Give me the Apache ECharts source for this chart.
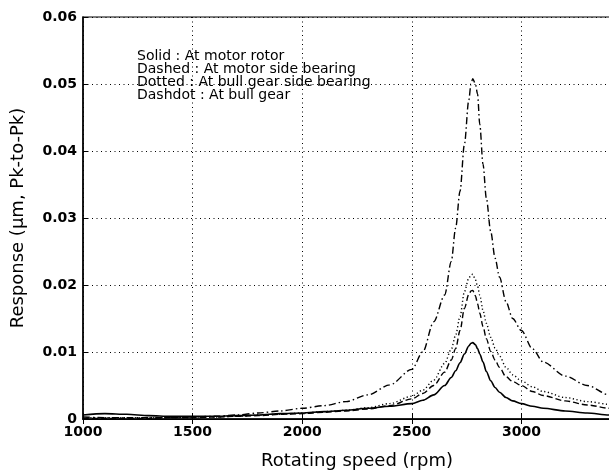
<!DOCTYPE html>
<html>
<head>
<meta charset="utf-8">
<script src="https://cdn.jsdelivr.net/npm/echarts@6/dist/echarts.min.js"></script>
<style>html,body{margin:0;padding:0;background:#fff;}#c{width:609px;height:476px;}</style>
</head>
<body>
<div id="c"></div>
<script>
const rpm = [1000,1100,1200,1300,1400,1500,1600,1700,1800,1900,2000,2100,2200,2300,2400,2500,2550,2600,2650,2680,2700,2720,2740,2760,2770,2778,2790,2800,2810,2825,2840,2860,2880,2900,2930,2960,3000,3050,3100,3200,3300,3400,3500];
const motorRotor = [0.0006,0.0008,0.0007,0.0005,0.0004,0.0004,0.0004,0.0005,0.0006,0.0008,0.0009,0.0011,0.0013,0.0016,0.0019,0.0023,0.0028,0.0036,0.0050,0.0062,0.0072,0.0084,0.0097,0.0109,0.0113,0.0114,0.0111,0.0105,0.0097,0.0085,0.0071,0.0057,0.0047,0.0040,0.0032,0.0027,0.0023,0.0019,0.0016,0.0012,0.0009,0.0006,0.0005];
const motorSideBearing = [0.0001,0.0001,0.0001,0.0001,0.0002,0.0002,0.0003,0.0004,0.0005,0.0007,0.0008,0.0010,0.0012,0.0015,0.0020,0.0030,0.0038,0.0050,0.0070,0.0088,0.0105,0.0132,0.0165,0.0186,0.0191,0.0192,0.0184,0.0172,0.0158,0.0138,0.0120,0.0101,0.0088,0.0077,0.0063,0.0056,0.0050,0.0041,0.0035,0.0027,0.0021,0.0016,0.0013];
const bullGearSideBearing = [0.0002,0.0002,0.0002,0.0002,0.0002,0.0002,0.0003,0.0004,0.0006,0.0007,0.0009,0.0011,0.0013,0.0017,0.0023,0.0034,0.0043,0.0058,0.0083,0.0104,0.0125,0.0153,0.0190,0.0210,0.0215,0.0216,0.0208,0.0198,0.0185,0.0162,0.0143,0.0122,0.0106,0.0094,0.0077,0.0066,0.0057,0.0048,0.0041,0.0032,0.0026,0.0022,0.0019];
const bullGear = [0.0003,0.0002,0.0002,0.0002,0.0002,0.0003,0.0004,0.0006,0.0009,0.0012,0.0016,0.0020,0.0026,0.0036,0.0051,0.0074,0.0100,0.0145,0.0185,0.0235,0.0285,0.0340,0.0410,0.0476,0.0500,0.0508,0.0500,0.0485,0.0440,0.0380,0.0330,0.0280,0.0240,0.0212,0.0175,0.0150,0.0132,0.0105,0.0085,0.0064,0.0050,0.0036,0.0028];
const xTicks = [1000,1500,2000,2500,3000,3500];
const yTicks = [0,0.01,0.02,0.03,0.04,0.05,0.06];
const noteLines = ['Solid : At motor rotor','Dashed : At motor side bearing','Dotted : At bull gear side bearing','Dashdot : At bull gear'];

const FONT = 'DejaVu Sans';
const pair = arr => rpm.map((x,i)=>[x, arr[i]]);
const mk = (name, arr, type, w) => ({
  name, type:'line', data: pair(arr), showSymbol:false, symbol:'none',
  smooth:0.3, smoothMonotone:'x',
  lineStyle:{color:'#000', width:w, type:type}, z:3
});
const chart = echarts.init(document.getElementById('c'), null, {renderer:'canvas'});
chart.setOption({
  animation:false,
  backgroundColor:'#fff',
  grid:{left:83, top:17, bottom:57, right:-22, containLabel:false, outerBoundsMode:'none',
        show:true, borderColor:'#000', borderWidth:1.2, backgroundColor:'transparent'},
  xAxis:[{
    type:'value', min:xTicks[0], max:xTicks[xTicks.length-1], interval:500,
    name:'Rotating speed (rpm)', nameLocation:'middle', nameGap:33,
    nameTextStyle:{fontFamily:FONT, fontSize:18, color:'#000'},
    axisLine:{show:true, onZero:false, lineStyle:{color:'#000', width:1.5}},
    axisTick:{show:true, inside:true, length:5, lineStyle:{color:'#000'}},
    axisLabel:{fontFamily:FONT, fontSize:14, fontWeight:'bold', color:'#000', margin:6,
      formatter: v => String(v)},
    splitLine:{show:true, lineStyle:{color:'#000', width:1, type:[1,3.5]}}
  },{
    type:'value', position:'top', min:xTicks[0], max:xTicks[xTicks.length-1], interval:500,
    axisLine:{show:true, lineStyle:{color:'#000', width:1.2}},
    axisTick:{show:true, inside:true, length:5, lineStyle:{color:'#000'}},
    axisLabel:{show:false}, splitLine:{show:false}
  }],
  yAxis:{
    type:'value', min:yTicks[0], max:yTicks[yTicks.length-1], interval:0.01,
    name:'Response (\u00b5m, Pk-to-Pk)', nameLocation:'middle', nameGap:56, nameRotate:90,
    nameTextStyle:{fontFamily:FONT, fontSize:18, color:'#000'},
    axisLine:{show:true, lineStyle:{color:'#000', width:1.5}},
    axisTick:{show:true, inside:true, length:5, lineStyle:{color:'#000'}},
    axisLabel:{fontFamily:FONT, fontSize:14, fontWeight:'bold', color:'#000', margin:6,
      formatter: v => v === 0 ? '0' : v.toFixed(2)},
    splitLine:{show:true, lineStyle:{color:'#000', width:1, type:[1,3.5]}}
  },
  graphic:[{
    type:'text', left:137, top:49, z:10,
    style:{text: noteLines.join('\n'), fontFamily:FONT, fontSize:14, lineHeight:13, fill:'#000'}
  }],
  series:[
    mk('Solid', motorRotor, 'solid', 1.6),
    mk('Dashed', motorSideBearing, [6,3], 1.4),
    mk('Dotted', bullGearSideBearing, [1.2,2.5], 1.4),
    mk('Dashdot', bullGear, [7,3,1.5,3], 1.4)
  ]
});
</script>
</body>
</html>
